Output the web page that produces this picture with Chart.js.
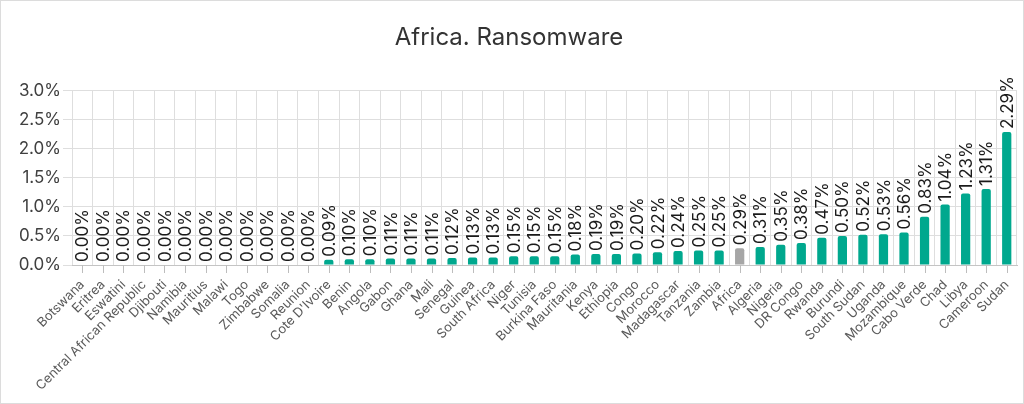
<!DOCTYPE html>
<html>
<head>
<meta charset="utf-8">
<script src="https://cdn.jsdelivr.net/npm/chart.js@4"></script>
<style>
  html, body { margin: 0; padding: 0; background: #fff; }
  #wrap { width: 1024px; height: 404px; box-sizing: border-box; border: 1px solid #dcdcdc; position: relative; }
</style>
</head>
<body>
<div id="wrap"><canvas id="chart"></canvas></div>
<script>
// data
const countries = [
  "Botswana", "Eritrea", "Eswatini", "Central African Republic", "Djibouti", "Namibia",
  "Mauritius", "Malawi", "Togo", "Zimbabwe", "Somalia", "Reunion", "Cote D'Ivoire",
  "Benin", "Angola", "Gabon", "Ghana", "Mali", "Senegal", "Guinea", "South Africa",
  "Niger", "Tunisia", "Burkina Faso", "Mauritania", "Kenya", "Ethiopia", "Congo",
  "Morocco", "Madagascar", "Tanzania", "Zambia", "Africa", "Algeria", "Nigeria",
  "DR Congo", "Rwanda", "Burundi", "South Sudan", "Uganda", "Mozambique", "Cabo Verde",
  "Chad", "Libya", "Cameroon", "Sudan"
];
const shares = [
  0, 0, 0, 0, 0, 0, 0, 0, 0, 0, 0, 0, 0.09,
  0.10, 0.10, 0.11, 0.11, 0.11, 0.12, 0.13, 0.13,
  0.15, 0.15, 0.15, 0.18, 0.19, 0.19, 0.20,
  0.22, 0.24, 0.25, 0.25, 0.29, 0.31, 0.35,
  0.38, 0.47, 0.50, 0.52, 0.53, 0.56, 0.83,
  1.04, 1.23, 1.31, 2.29
];
const yTicks = [0, 0.5, 1.0, 1.5, 2.0, 2.5, 3.0];
const highlight = "Africa";

const FONT = "Inter, 'Noto Sans', sans-serif";

// value labels drawn vertically above each bar
const valueLabels = {
  id: "valueLabels",
  afterDatasetsDraw(chart) {
    const ctx = chart.ctx;
    const meta = chart.getDatasetMeta(0);
    ctx.save();
    ctx.font = "17px " + FONT;
    ctx.fillStyle = "#1a1a1a";
    ctx.textAlign = "left";
    ctx.textBaseline = "middle";
    meta.data.forEach((bar, i) => {
      ctx.save();
      ctx.translate(bar.x, bar.y - 3);
      ctx.rotate(-Math.PI / 2);
      ctx.fillText(shares[i].toFixed(2) + "%", 0, 1);
      ctx.restore();
    });
    ctx.restore();
  }
};

// small tick marks under the axis at the category centres
const centreTicks = {
  id: "centreTicks",
  afterDraw(chart) {
    const x = chart.scales.x;
    const ctx = chart.ctx;
    ctx.save();
    ctx.strokeStyle = "#bdbdbd";
    ctx.lineWidth = 1;
    countries.forEach((c, i) => {
      const px = Math.round(x.getPixelForValue(i)) + 0.5;
      ctx.beginPath();
      ctx.moveTo(px, x.top);
      ctx.lineTo(px, x.top + 8);
      ctx.stroke();
    });
    ctx.restore();
  }
};

new Chart(document.getElementById("chart"), {
  type: "bar",
  data: {
    labels: countries,
    datasets: [{
      data: shares,
      backgroundColor: countries.map(c => c === highlight ? "#a6a6a6" : "#00a88e"),
      borderRadius: 2,
      barPercentage: 0.9,
      categoryPercentage: 0.5
    }]
  },
  options: {
    responsive: true,
    maintainAspectRatio: false,
    animation: false,
    layout: { padding: { left: 0, right: 6, top: 4, bottom: 0 } },
    plugins: {
      legend: { display: false },
      tooltip: { enabled: false },
      title: {
        display: true,
        text: "Africa. Ransomware",
        color: "#333333",
        font: { family: FONT, size: 24, weight: "normal" },
        padding: { top: 18, bottom: 39 }
      }
    },
    scales: {
      x: {
        grid: { color: "#dedede", drawTicks: false },
        border: { color: "#c4c4c4" },
        ticks: {
          color: "#595959",
          font: { family: FONT, size: 13 },
          minRotation: 45,
          maxRotation: 45,
          autoSkip: false,
          padding: 12
        },
        afterFit(scale) {
          scale.height = 138;
          scale.paddingLeft = 0;
          scale.paddingRight = 0;
        }
      },
      y: {
        min: 0,
        max: 3,
        afterBuildTicks(scale) { scale.ticks = yTicks.map(v => ({ value: v })); },
        grid: { color: "#dedede", tickLength: 9 },
        border: { display: false },
        ticks: {
          color: "#404040",
          font: { family: FONT, size: 17 },
          padding: 2,
          callback: v => v.toFixed(1) + "%"
        },
        afterFit(scale) { scale.width = 71; }
      }
    }
  },
  plugins: [valueLabels, centreTicks]
});
</script>
</body>
</html>
